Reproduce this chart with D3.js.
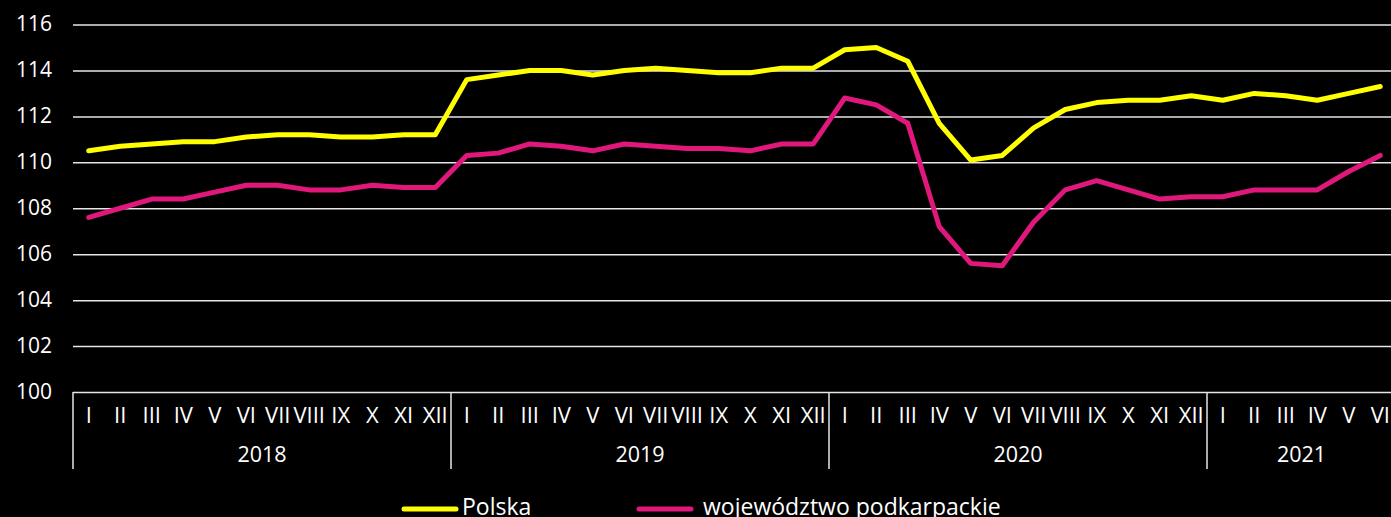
<!DOCTYPE html>
<html>
<head>
<meta charset="utf-8">
<script src="https://cdn.jsdelivr.net/npm/d3@7"></script>
<style>
  body { margin: 0; background: #000; }
  svg { display: block; }
  .month { font-family: 'Open Sans', sans-serif; font-size: 22px; }
  .year { font-family: 'Open Sans', sans-serif; font-size: 21.5px; }
</style>
</head>
<body>
<svg id="chart" width="1391" height="517"></svg>
<script>
const years = ["2018", "2019", "2020", "2021"];
const monthNames = ["I", "II", "III", "IV", "V", "VI", "VII", "VIII", "IX", "X", "XI", "XII"];
const monthsPerYear = [12, 12, 12, 6];
const yTicks = [100, 102, 104, 106, 108, 110, 112, 114, 116];

const polska = [
  110.5, 110.7, 110.8, 110.9, 110.9, 111.1, 111.2, 111.2, 111.1, 111.1, 111.2, 111.2,
  113.6, 113.8, 114.0, 114.0, 113.8, 114.0, 114.1, 114.0, 113.9, 113.9, 114.1, 114.1,
  114.9, 115.0, 114.4, 111.7, 110.1, 110.3, 111.5, 112.3, 112.6, 112.7, 112.7, 112.9,
  112.7, 113.0, 112.9, 112.7, 113.0, 113.3
];
const podkarpackie = [
  107.6, 108.0, 108.4, 108.4, 108.7, 109.0, 109.0, 108.8, 108.8, 109.0, 108.9, 108.9,
  110.3, 110.4, 110.8, 110.7, 110.5, 110.8, 110.7, 110.6, 110.6, 110.5, 110.8, 110.8,
  112.8, 112.5, 111.7, 107.2, 105.6, 105.5, 107.4, 108.8, 109.2, 108.8, 108.4, 108.5,
  108.5, 108.8, 108.8, 108.8, 109.6, 110.3
];
const seriesNames = ["Polska", "województwo podkarpackie"];
const seriesColors = ["#ffff00", "#e0187c"];

// build the flat list of month keys
const months = [];
years.forEach((yr, yi) => {
  for (let m = 0; m < monthsPerYear[yi]; m++) {
    months.push({ key: yr + "-" + m, label: monthNames[m], year: yr });
  }
});

const svg = d3.select("#chart");
const plotLeft = 73, plotTop = 24.5, plotBottom = 392;
const plotRight = plotLeft + months.length * 31.5;

const x = d3.scaleBand().domain(months.map(d => d.key)).range([plotLeft, plotRight]);
const y = d3.scaleLinear().domain([100, 116]).range([plotBottom, plotTop]);

// gridlines + y labels
const yAxis = svg.append("g")
  .attr("transform", `translate(${plotLeft},0)`)
  .call(d3.axisLeft(y).tickValues(yTicks).tickSize(-(plotRight - plotLeft)).tickPadding(21).tickFormat(d3.format("d")));
yAxis.select(".domain").remove();
yAxis.selectAll(".tick line").attr("stroke", "#e6e6e6").attr("stroke-width", 1.5);
yAxis.selectAll(".tick text")
  .attr("fill", "#fff")
  .attr("dy", "0.3em")
  .style("font-family", "'Open Sans', sans-serif")
  .style("font-size", "21px");

// month labels
const xAxis = svg.append("g")
  .attr("transform", `translate(0,${plotBottom})`)
  .call(d3.axisBottom(x).tickSize(0).tickPadding(15).tickFormat((k, i) => months[i].label));
xAxis.select(".domain").remove();
xAxis.selectAll(".tick text")
  .attr("fill", "#fff")
  .attr("class", "month");

// year separators and labels
let idx = 0;
const groups = years.map((yr, yi) => {
  const g = { year: yr, start: x(months[idx].key), end: x(months[idx + monthsPerYear[yi] - 1].key) + x.bandwidth() };
  idx += monthsPerYear[yi];
  return g;
});
svg.append("g").selectAll("line")
  .data(groups.map(g => g.start).concat([plotRight]))
  .join("line")
  .attr("x1", d => d).attr("x2", d => d)
  .attr("y1", plotBottom).attr("y2", 469)
  .attr("stroke", "#e6e6e6").attr("stroke-width", 1.5);
svg.append("g").selectAll("text")
  .data(groups)
  .join("text")
  .attr("class", "year")
  .attr("x", d => (d.start + d.end) / 2)
  .attr("y", 462)
  .attr("text-anchor", "middle")
  .attr("fill", "#fff")
  .text(d => d.year);

// lines
const line = d3.line()
  .x((d, i) => x(months[i].key) + x.bandwidth() / 2)
  .y(d => y(d));
[polska, podkarpackie].forEach((s, si) => {
  svg.append("path")
    .datum(s)
    .attr("fill", "none")
    .attr("stroke", seriesColors[si])
    .attr("stroke-width", 5)
    .attr("stroke-linejoin", "round")
    .attr("stroke-linecap", "round")
    .attr("d", line);
});

// legend
const legendX = [404, 639];
const legend = svg.append("g").selectAll("g")
  .data(seriesNames)
  .join("g")
  .attr("transform", (d, i) => `translate(${legendX[i]},509)`);
legend.append("line")
  .attr("x1", 0).attr("x2", 52)
  .attr("stroke", (d, i) => seriesColors[i])
  .attr("stroke-width", 5)
  .attr("stroke-linecap", "round");
legend.append("text")
  .attr("x", (d, i) => i === 0 ? 58 : 64)
  .attr("y", 5.5)
  .attr("fill", "#fff")
  .style("font-family", "'Open Sans', sans-serif")
  .style("font-size", "23px")
  .text(d => d);
</script>
</body>
</html>
